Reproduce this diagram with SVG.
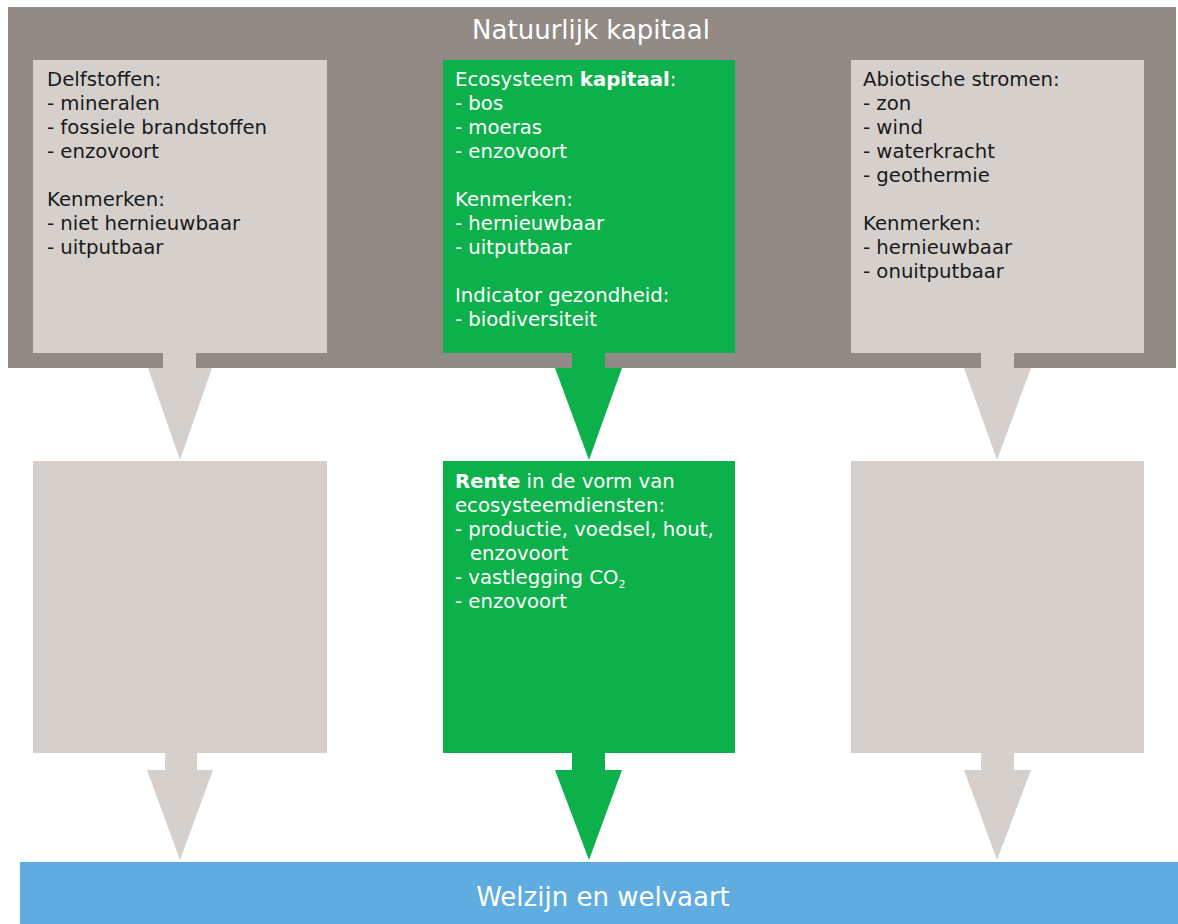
<svg xmlns="http://www.w3.org/2000/svg" width="1178" height="924" viewBox="0 0 1178 924">
<style>
.t{font-family:"DejaVu Sans",Verdana,sans-serif;font-size:19.7px}
.dk{fill:#1a1a1a}
.wt{fill:#ffffff}
.title{font-family:"DejaVu Sans",Verdana,sans-serif;font-size:26px;fill:#ffffff}
.grey{fill:#d5d0cc}
.green{fill:#0db14b}
.brown{fill:#928a84}
.blue{fill:#5fade0}
</style>
<rect width="1178" height="924" fill="#ffffff"/>
<g id="natuurlijk-kapitaal">
<rect class="brown" x="8" y="7" width="1168" height="361"/>
<text class="title" x="591" y="39" text-anchor="middle">Natuurlijk kapitaal</text>
</g>
<g id="welzijn">
<rect class="blue" x="20" y="862" width="1158" height="62"/>
<text class="title" x="603" y="906" text-anchor="middle">Welzijn en welvaart</text>
</g>
<g id="connectors">
<polygon class="grey" points="163,353 196,353 196,368 212,368 180,460 148,368 163,368"/>
<polygon class="green" points="572,353 605,353 605,368 622,368 589,460 555,368 572,368"/>
<polygon class="grey" points="981,353 1014,353 1014,368 1031,368 997,460 964,368 981,368"/>
<polygon class="grey" points="165,753 197,753 197,770 213,770 180,860 147,770 165,770"/>
<polygon class="green" points="572,753 605,753 605,770 622,770 589,860 555,770 572,770"/>
<polygon class="grey" points="981,753 1014,753 1014,770 1031,770 997,860 964,770 981,770"/>
</g>
<g id="delfstoffen">
<rect class="grey" x="33" y="60" width="294" height="293"/>
<text class="t dk" x="47" y="86">Delfstoffen:</text>
<text class="t dk" x="47" y="110">- mineralen</text>
<text class="t dk" x="47" y="134">- fossiele brandstoffen</text>
<text class="t dk" x="47" y="158">- enzovoort</text>
<text class="t dk" x="47" y="206">Kenmerken:</text>
<text class="t dk" x="47" y="230">- niet hernieuwbaar</text>
<text class="t dk" x="47" y="254">- uitputbaar</text>
</g>
<g id="ecosysteem">
<rect class="green" x="443" y="60" width="292" height="293"/>
<text class="t wt" x="455" y="86">Ecosysteem <tspan font-weight="bold">kapitaal</tspan>:</text>
<text class="t wt" x="455" y="110">- bos</text>
<text class="t wt" x="455" y="134">- moeras</text>
<text class="t wt" x="455" y="158">- enzovoort</text>
<text class="t wt" x="455" y="206">Kenmerken:</text>
<text class="t wt" x="455" y="230">- hernieuwbaar</text>
<text class="t wt" x="455" y="254">- uitputbaar</text>
<text class="t wt" x="455" y="302">Indicator gezondheid:</text>
<text class="t wt" x="455" y="326">- biodiversiteit</text>
</g>
<g id="abiotisch">
<rect class="grey" x="851" y="60" width="293" height="293"/>
<text class="t dk" x="863" y="86">Abiotische stromen:</text>
<text class="t dk" x="863" y="110">- zon</text>
<text class="t dk" x="863" y="134">- wind</text>
<text class="t dk" x="863" y="158">- waterkracht</text>
<text class="t dk" x="863" y="182">- geothermie</text>
<text class="t dk" x="863" y="230">Kenmerken:</text>
<text class="t dk" x="863" y="254">- hernieuwbaar</text>
<text class="t dk" x="863" y="278">- onuitputbaar</text>
</g>
<g id="leeg-links">
<rect class="grey" x="33" y="461" width="294" height="292"/>
</g>
<g id="rente">
<rect class="green" x="443" y="461" width="292" height="292"/>
<text class="t wt" x="455" y="488"><tspan font-weight="bold">Rente</tspan> in de vorm van</text>
<text class="t wt" x="455" y="512">ecosysteemdiensten:</text>
<text class="t wt" x="455" y="536">- productie, voedsel, hout,</text>
<text class="t wt" x="470" y="560">enzovoort</text>
<text class="t wt" x="455" y="584">- vastlegging CO<tspan font-size="11" dy="4">2</tspan></text>
<text class="t wt" x="455" y="608">- enzovoort</text>
</g>
<g id="leeg-rechts">
<rect class="grey" x="851" y="461" width="293" height="292"/>
</g>
</svg>
